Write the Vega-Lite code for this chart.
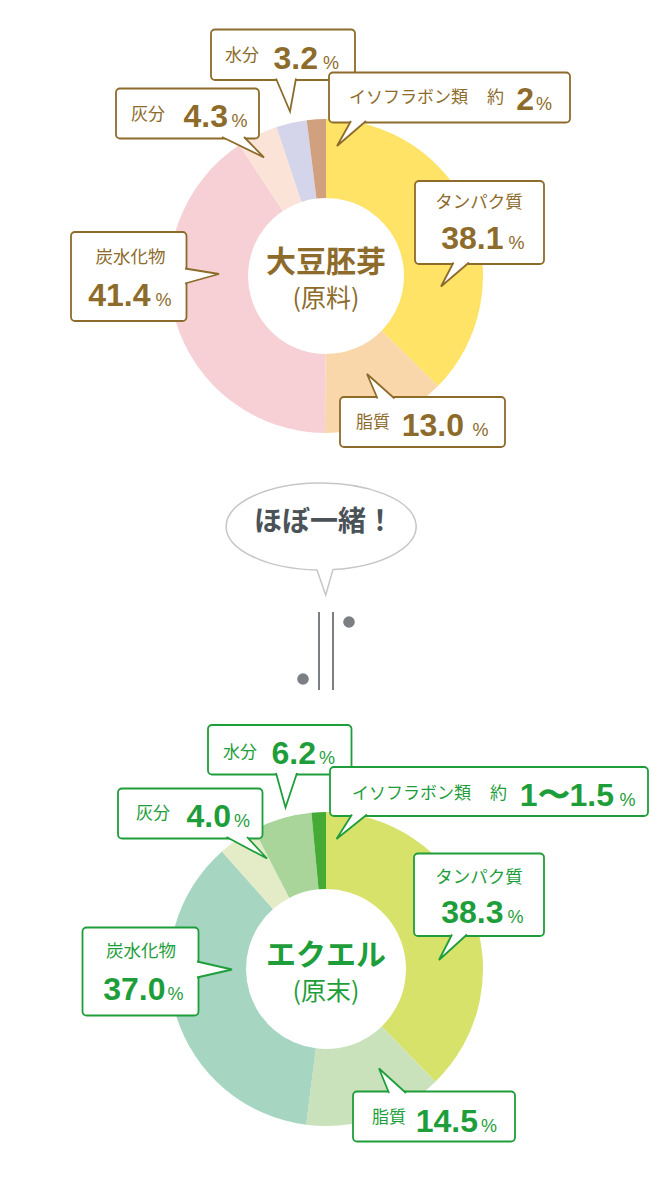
{
  "$schema": "https://vega.github.io/schema/vega-lite/v6.json",
  "width": 651,
  "height": 1196,
  "autosize": {"type": "fit", "contains": "padding"},
  "padding": 0,
  "background": "white",
  "config": {"view": {"stroke": null}, "axis": {"disable": true}, "legend": {"disable": true}},
  "datasets": {
    "slices": [
      {"chart": "大豆胚芽", "item": "タンパク質", "value": 38.1, "ord": 1},
      {"chart": "大豆胚芽", "item": "脂質", "value": 13.0, "ord": 2},
      {"chart": "大豆胚芽", "item": "炭水化物", "value": 41.4, "ord": 3},
      {"chart": "大豆胚芽", "item": "灰分", "value": 4.3, "ord": 4},
      {"chart": "大豆胚芽", "item": "水分", "value": 3.2, "ord": 5},
      {"chart": "大豆胚芽", "item": "イソフラボン類", "value": 2, "ord": 6},
      {"chart": "エクエル", "item": "タンパク質", "value": 38.3, "ord": 1},
      {"chart": "エクエル", "item": "脂質", "value": 14.5, "ord": 2},
      {"chart": "エクエル", "item": "炭水化物", "value": 37.0, "ord": 3},
      {"chart": "エクエル", "item": "灰分", "value": 4.0, "ord": 4},
      {"chart": "エクエル", "item": "水分", "value": 6.2, "ord": 5},
      {"chart": "エクエル", "item": "イソフラボン類", "value": 1.5, "ord": 6}
    ],
    "boxes": [
      {"chart": "大豆胚芽", "id": "t1", "left": 211, "top": 29.5, "right": 355, "bottom": 80},
      {"chart": "大豆胚芽", "id": "t2", "left": 329, "top": 72.5, "right": 570, "bottom": 122.5},
      {"chart": "大豆胚芽", "id": "t3", "left": 116, "top": 88.5, "right": 259, "bottom": 138.5},
      {"chart": "大豆胚芽", "id": "t4", "left": 415, "top": 181, "right": 544, "bottom": 264},
      {"chart": "大豆胚芽", "id": "t5", "left": 71, "top": 232, "right": 186.5, "bottom": 321},
      {"chart": "大豆胚芽", "id": "t6", "left": 340, "top": 397, "right": 505, "bottom": 447},
      {"chart": "エクエル", "id": "b1", "left": 208, "top": 725, "right": 351.5, "bottom": 774.5},
      {"chart": "エクエル", "id": "b2", "left": 330, "top": 767, "right": 648, "bottom": 816},
      {"chart": "エクエル", "id": "b3", "left": 118, "top": 788.5, "right": 262.5, "bottom": 838.5},
      {"chart": "エクエル", "id": "b4", "left": 414, "top": 853.5, "right": 544, "bottom": 936},
      {"chart": "エクエル", "id": "b5", "left": 82.5, "top": 927.5, "right": 198.5, "bottom": 1015.5},
      {"chart": "エクエル", "id": "b6", "left": 353, "top": 1091.5, "right": 515, "bottom": 1141.5}
    ],
    "texts": [
      {"chart": "大豆胚芽", "kind": "label", "text": "水分", "x": 225, "y": 56},
      {"chart": "大豆胚芽", "kind": "num", "text": "3.2", "x": 318, "y": 68.5},
      {"chart": "大豆胚芽", "kind": "pct", "text": "%", "x": 323, "y": 68.5},
      {"chart": "大豆胚芽", "kind": "label", "text": "イソフラボン類", "x": 349, "y": 97.5},
      {"chart": "大豆胚芽", "kind": "label", "text": "約", "x": 487, "y": 97.5},
      {"chart": "大豆胚芽", "kind": "num", "text": "2", "x": 534, "y": 110},
      {"chart": "大豆胚芽", "kind": "pct", "text": "%", "x": 536, "y": 110},
      {"chart": "大豆胚芽", "kind": "label", "text": "灰分", "x": 131, "y": 115},
      {"chart": "大豆胚芽", "kind": "num", "text": "4.3", "x": 228, "y": 127},
      {"chart": "大豆胚芽", "kind": "pct", "text": "%", "x": 231.5, "y": 127},
      {"chart": "大豆胚芽", "kind": "labelc", "text": "タンパク質", "x": 479, "y": 203},
      {"chart": "大豆胚芽", "kind": "num", "text": "38.1", "x": 503.5, "y": 248.5},
      {"chart": "大豆胚芽", "kind": "pct", "text": "%", "x": 508.5, "y": 248.5},
      {"chart": "大豆胚芽", "kind": "labelc", "text": "炭水化物", "x": 130.5, "y": 258},
      {"chart": "大豆胚芽", "kind": "num", "text": "41.4", "x": 150.5, "y": 305.5},
      {"chart": "大豆胚芽", "kind": "pct", "text": "%", "x": 155.5, "y": 305.5},
      {"chart": "大豆胚芽", "kind": "label", "text": "脂質", "x": 356, "y": 422.5},
      {"chart": "大豆胚芽", "kind": "num", "text": "13.0", "x": 464, "y": 435.5},
      {"chart": "大豆胚芽", "kind": "pct", "text": "%", "x": 472.5, "y": 435.5},
      {"chart": "大豆胚芽", "kind": "title", "text": "大豆胚芽", "x": 326, "y": 263},
      {"chart": "大豆胚芽", "kind": "sub", "text": "(原料)", "x": 326, "y": 298.5},
      {"chart": "エクエル", "kind": "label", "text": "水分", "x": 223, "y": 753},
      {"chart": "エクエル", "kind": "num", "text": "6.2", "x": 316, "y": 763.5},
      {"chart": "エクエル", "kind": "pct", "text": "%", "x": 319, "y": 763.5},
      {"chart": "エクエル", "kind": "label", "text": "イソフラボン類", "x": 352, "y": 794},
      {"chart": "エクエル", "kind": "label", "text": "約", "x": 490, "y": 794},
      {"chart": "エクエル", "kind": "num", "text": "1〜1.5", "x": 614, "y": 805.5},
      {"chart": "エクエル", "kind": "pct", "text": "%", "x": 619.5, "y": 805.5},
      {"chart": "エクエル", "kind": "label", "text": "灰分", "x": 136, "y": 814},
      {"chart": "エクエル", "kind": "num", "text": "4.0", "x": 231, "y": 826.5},
      {"chart": "エクエル", "kind": "pct", "text": "%", "x": 234, "y": 826.5},
      {"chart": "エクエル", "kind": "labelc", "text": "タンパク質", "x": 479, "y": 878},
      {"chart": "エクエル", "kind": "num", "text": "38.3", "x": 503.5, "y": 922.5},
      {"chart": "エクエル", "kind": "pct", "text": "%", "x": 507.5, "y": 922.5},
      {"chart": "エクエル", "kind": "labelc", "text": "炭水化物", "x": 141, "y": 952},
      {"chart": "エクエル", "kind": "num", "text": "37.0", "x": 165.5, "y": 999.5},
      {"chart": "エクエル", "kind": "pct", "text": "%", "x": 167.5, "y": 999.5},
      {"chart": "エクエル", "kind": "label", "text": "脂質", "x": 372, "y": 1117.5},
      {"chart": "エクエル", "kind": "num", "text": "14.5", "x": 478, "y": 1131.5},
      {"chart": "エクエル", "kind": "pct", "text": "%", "x": 481, "y": 1131.5},
      {"chart": "エクエル", "kind": "title", "text": "エクエル", "x": 326, "y": 956},
      {"chart": "エクエル", "kind": "sub", "text": "(原末)", "x": 326, "y": 992}
    ],
    "bubble": [{"text": "ほぼ一緒！", "x": 321, "y": 526.5}],
    "eq": [{"x": 319, "y": 612, "y2": 690}, {"x": 333, "y": 612, "y2": 690}],
    "dots": [{"x": 349, "y": 622}, {"x": 303, "y": 679}]
  },
  "resolve": {"scale": {"color": "independent"}},
  "layer": [
    {
      "data": {"name": "slices"},
      "transform": [{"filter": "datum.chart === '大豆胚芽'"}],
      "mark": {"type": "arc", "outerRadius": 157, "innerRadius": 78},
      "encoding": {
        "theta": {"field": "value", "type": "quantitative", "stack": "normalize"},
        "order": {"field": "ord", "type": "quantitative"},
        "color": {"field": "item", "type": "nominal", "legend": null,
          "scale": {"domain": ["タンパク質", "脂質", "炭水化物", "灰分", "水分", "イソフラボン類"],
                    "range": ["#FFE366", "#F9D7AA", "#F6D0D5", "#FBE3D8", "#D4D5EA", "#D1A07E"]}},
        "x": {"datum": 326, "type": "quantitative", "scale": {"domain": [0, 651], "nice": false, "zero": false}},
        "y": {"datum": 276, "type": "quantitative", "scale": {"domain": [0, 1196], "nice": false, "zero": false, "reverse": true}}
      }
    },
    {
      "data": {"name": "slices"},
      "transform": [{"filter": "datum.chart === 'エクエル'"}],
      "mark": {"type": "arc", "outerRadius": 157, "innerRadius": 80},
      "encoding": {
        "theta": {"field": "value", "type": "quantitative", "stack": "normalize"},
        "order": {"field": "ord", "type": "quantitative"},
        "color": {"field": "item", "type": "nominal", "legend": null,
          "scale": {"domain": ["タンパク質", "脂質", "炭水化物", "灰分", "水分", "イソフラボン類"],
                    "range": ["#D7E26A", "#CAE2BC", "#A6D5C1", "#E4ECC7", "#A9D49A", "#45AB35"]}},
        "x": {"datum": 326, "type": "quantitative", "scale": {"domain": [0, 651], "nice": false, "zero": false}},
        "y": {"datum": 969, "type": "quantitative", "scale": {"domain": [0, 1196], "nice": false, "zero": false, "reverse": true}}
      }
    },
    {
      "data": {"name": "bubble"},
      "mark": {"type": "point", "filled": true, "fill": "white", "stroke": "#C6C6C6", "strokeWidth": 1.5, "opacity": 1, "size": 4,
               "shape": "M 12 43.1 A 95 43.5 0 1 0 -4 43.4 L 4.7 68.5 Z"},
      "encoding": {
        "x": {"field": "x", "type": "quantitative", "scale": {"domain": [0, 651], "nice": false, "zero": false}},
        "y": {"field": "y", "type": "quantitative", "scale": {"domain": [0, 1196], "nice": false, "zero": false, "reverse": true}}
      }
    },
    {
      "data": {"name": "bubble"},
      "mark": {"type": "text", "font": "Noto Sans CJK JP", "fontWeight": "bold", "fontSize": 28, "fill": "#4B5358",
               "align": "center", "baseline": "middle", "dx": 3, "dy": -3.5},
      "encoding": {
        "text": {"field": "text"},
        "x": {"field": "x", "type": "quantitative", "scale": {"domain": [0, 651], "nice": false, "zero": false}},
        "y": {"field": "y", "type": "quantitative", "scale": {"domain": [0, 1196], "nice": false, "zero": false, "reverse": true}}
      }
    },
    {
      "data": {"name": "eq"},
      "mark": {"type": "rule", "stroke": "#7B7F83", "strokeWidth": 2},
      "encoding": {
        "x": {"field": "x", "type": "quantitative", "scale": {"domain": [0, 651], "nice": false, "zero": false}},
        "y": {"field": "y", "type": "quantitative", "scale": {"domain": [0, 1196], "nice": false, "zero": false, "reverse": true}},
        "y2": {"field": "y2"}
      }
    },
    {
      "data": {"name": "dots"},
      "mark": {"type": "circle", "fill": "#7B7F83", "opacity": 1, "size": 135},
      "encoding": {
        "x": {"field": "x", "type": "quantitative", "scale": {"domain": [0, 651], "nice": false, "zero": false}},
        "y": {"field": "y", "type": "quantitative", "scale": {"domain": [0, 1196], "nice": false, "zero": false, "reverse": true}}
      }
    },
    {
      "data": {"name": "boxes"},
      "mark": {"type": "rect", "fill": "white", "strokeWidth": 1.8, "cornerRadius": 4},
      "encoding": {
        "x": {"field": "left", "type": "quantitative", "scale": {"domain": [0, 651], "nice": false, "zero": false}},
        "x2": {"field": "right"},
        "y": {"field": "top", "type": "quantitative", "scale": {"domain": [0, 1196], "nice": false, "zero": false, "reverse": true}},
        "y2": {"field": "bottom"},
        "stroke": {"field": "chart", "type": "nominal", "legend": null,
          "scale": {"domain": ["大豆胚芽", "エクエル"], "range": ["#8D6B2B", "#1E9E3A"]}}
      }
    },
    {
      "data": {"name": "boxes"},
      "mark": {"type": "point", "filled": true, "fill": "white", "strokeWidth": 1.8, "opacity": 1, "size": 4, "strokeJoin": "miter"},
      "encoding": {
        "x": {"field": "left", "type": "quantitative", "scale": {"domain": [0, 651], "nice": false, "zero": false}},
        "y": {"field": "top", "type": "quantitative", "scale": {"domain": [0, 1196], "nice": false, "zero": false, "reverse": true}},
        "shape": {"field": "id", "type": "nominal", "legend": null,
          "scale": {"domain": ["t1", "t2", "t3", "t4", "t5", "t6", "b1", "b2", "b3", "b4", "b5", "b6"],
                    "range": ["M 65 49 L 79 82 L 85 49", "M 22 48.5 L 8 73.5 L 37 48.5", "M 106 48.5 L 148 69 L 128 48.5",
                              "M 38.5 81.5 L 26 105.5 L 54 81.5", "M 114 36.5 L 148 42 L 114 51.5", "M 37.5 1.5 L 27 -23 L 54.5 1.5",
                              "M 68 48 L 77.5 82.5 L 89 48", "M 22 47.5 L 6.5 72 L 37 47.5", "M 108.5 48.5 L 149 70 L 129 48.5",
                              "M 38 81 L 25 106.5 L 53 81", "M 114.5 34 L 149.5 42 L 114.5 50", "M 36 1.5 L 26 -23 L 53 1.5"]}},
        "stroke": {"field": "chart", "type": "nominal", "legend": null,
          "scale": {"domain": ["大豆胚芽", "エクエル"], "range": ["#8D6B2B", "#1E9E3A"]}}
      }
    },
    {
      "data": {"name": "texts"},
      "transform": [{"filter": "datum.kind === 'label'"}],
      "mark": {"type": "text", "font": "Noto Sans CJK JP", "fontSize": 17, "align": "left", "baseline": "middle"},
      "encoding": {
        "text": {"field": "text"},
        "x": {"field": "x", "type": "quantitative", "scale": {"domain": [0, 651], "nice": false, "zero": false}},
        "y": {"field": "y", "type": "quantitative", "scale": {"domain": [0, 1196], "nice": false, "zero": false, "reverse": true}},
        "fill": {"field": "chart", "type": "nominal", "legend": null,
          "scale": {"domain": ["大豆胚芽", "エクエル"], "range": ["#8D6B2B", "#1E9E3A"]}}
      }
    },
    {
      "data": {"name": "texts"},
      "transform": [{"filter": "datum.kind === 'labelc'"}],
      "mark": {"type": "text", "font": "Noto Sans CJK JP", "fontSize": 17.5, "align": "center", "baseline": "middle"},
      "encoding": {
        "text": {"field": "text"},
        "x": {"field": "x", "type": "quantitative", "scale": {"domain": [0, 651], "nice": false, "zero": false}},
        "y": {"field": "y", "type": "quantitative", "scale": {"domain": [0, 1196], "nice": false, "zero": false, "reverse": true}},
        "fill": {"field": "chart", "type": "nominal", "legend": null,
          "scale": {"domain": ["大豆胚芽", "エクエル"], "range": ["#8D6B2B", "#1E9E3A"]}}
      }
    },
    {
      "data": {"name": "texts"},
      "transform": [{"filter": "datum.kind === 'num'"}],
      "mark": {"type": "text", "font": "Liberation Sans", "fontWeight": "bold", "fontSize": 32, "align": "right", "baseline": "alphabetic"},
      "encoding": {
        "text": {"field": "text"},
        "x": {"field": "x", "type": "quantitative", "scale": {"domain": [0, 651], "nice": false, "zero": false}},
        "y": {"field": "y", "type": "quantitative", "scale": {"domain": [0, 1196], "nice": false, "zero": false, "reverse": true}},
        "fill": {"field": "chart", "type": "nominal", "legend": null,
          "scale": {"domain": ["大豆胚芽", "エクエル"], "range": ["#8D6B2B", "#1E9E3A"]}}
      }
    },
    {
      "data": {"name": "texts"},
      "transform": [{"filter": "datum.kind === 'pct'"}],
      "mark": {"type": "text", "font": "Liberation Sans", "fontWeight": "normal", "fontSize": 18, "align": "left", "baseline": "alphabetic"},
      "encoding": {
        "text": {"field": "text"},
        "x": {"field": "x", "type": "quantitative", "scale": {"domain": [0, 651], "nice": false, "zero": false}},
        "y": {"field": "y", "type": "quantitative", "scale": {"domain": [0, 1196], "nice": false, "zero": false, "reverse": true}},
        "fill": {"field": "chart", "type": "nominal", "legend": null,
          "scale": {"domain": ["大豆胚芽", "エクエル"], "range": ["#8D6B2B", "#1E9E3A"]}}
      }
    },
    {
      "data": {"name": "texts"},
      "transform": [{"filter": "datum.kind === 'title'"}],
      "mark": {"type": "text", "font": "Noto Sans CJK JP", "fontWeight": "bold", "fontSize": 30, "align": "center", "baseline": "middle"},
      "encoding": {
        "text": {"field": "text"},
        "x": {"field": "x", "type": "quantitative", "scale": {"domain": [0, 651], "nice": false, "zero": false}},
        "y": {"field": "y", "type": "quantitative", "scale": {"domain": [0, 1196], "nice": false, "zero": false, "reverse": true}},
        "fill": {"field": "chart", "type": "nominal", "legend": null,
          "scale": {"domain": ["大豆胚芽", "エクエル"], "range": ["#8D6B2B", "#1E9E3A"]}}
      }
    },
    {
      "data": {"name": "texts"},
      "transform": [{"filter": "datum.kind === 'sub'"}],
      "mark": {"type": "text", "font": "Noto Sans CJK JP", "fontSize": 25, "align": "center", "baseline": "middle"},
      "encoding": {
        "text": {"field": "text"},
        "x": {"field": "x", "type": "quantitative", "scale": {"domain": [0, 651], "nice": false, "zero": false}},
        "y": {"field": "y", "type": "quantitative", "scale": {"domain": [0, 1196], "nice": false, "zero": false, "reverse": true}},
        "fill": {"field": "chart", "type": "nominal", "legend": null,
          "scale": {"domain": ["大豆胚芽", "エクエル"], "range": ["#8D6B2B", "#1E9E3A"]}}
      }
    }
  ]
}
